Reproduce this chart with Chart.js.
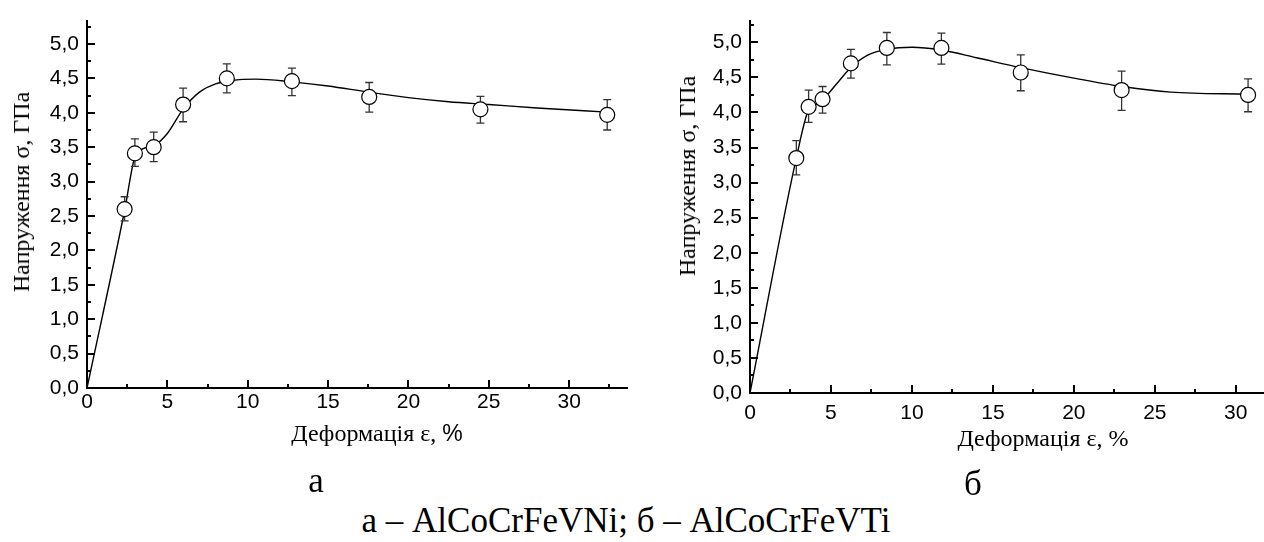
<!DOCTYPE html>
<html lang="uk">
<head>
    <meta charset="UTF-8">
    <title>Напруження – деформація</title>
    <script src="https://cdn.jsdelivr.net/npm/chart.js@4.4.1/dist/chart.umd.min.js"></script>
    <style>
        body { margin: 0; background: #fff; width: 1264px; height: 542px; overflow: hidden; position: relative; }
        canvas { position: absolute; top: 0; }
        #cA { left: 0; }
        #cB { left: 640px; }
        .txt { position: absolute; font-family: "Liberation Serif", "Times New Roman", serif; color: #000; white-space: nowrap; line-height: 1; }
        .ytitle { font-size: 24px; transform: translate(-50%, -50%) rotate(-90deg); }
        .xtitle { font-size: 24px; transform: translate(-50%, -50%); }
        .cap { font-size: 35px; transform: translate(-50%, -50%); }
    </style>
</head>
<body>
    <canvas id="cA" width="640" height="450"></canvas>
    <!-- a bit wider than the window: the axis of б runs right up to the edge -->
    <canvas id="cB" width="632" height="450"></canvas>

    <div class="txt ytitle" style="left:21px; top:192px;">Напруження σ, ГПа</div>
    <div class="txt xtitle" style="left:377px; top:433px;">Деформація ε, <span style="font-family:'Liberation Sans',Arial,sans-serif;font-size:23px">%</span></div>
    <div class="txt ytitle" style="left:687px; top:176px;">Напруження σ, ГПа</div>
    <div class="txt xtitle" style="left:1043px; top:438px;">Деформація ε, %</div>
    <div class="txt cap" style="left:316px; top:480px;">а</div>
    <div class="txt cap" style="left:973px; top:483px;">б</div>
    <div class="txt cap" style="left:626px; top:520px;">а – AlCoCrFeVNi; б – AlCoCrFeVTi</div>

    <script>
        // tick labels
        const xTicks = [0, 5, 10, 15, 20, 25, 30]
        const yTicks = [0, 0.5, 1.0, 1.5, 2.0, 2.5, 3.0, 3.5, 4.0, 4.5, 5.0]

        // а – AlCoCrFeVNi: measured points
        const strainA = [2.34, 2.98, 4.15, 5.98, 8.70, 12.75, 17.56, 24.48, 32.37]
        const stressA = [2.60, 3.41, 3.50, 4.12, 4.50, 4.46, 4.23, 4.05, 3.97]
        const errUpA  = [2.78, 3.62, 3.72, 4.36, 4.71, 4.65, 4.44, 4.24, 4.19]
        const errLoA  = [2.43, 3.22, 3.29, 3.87, 4.29, 4.25, 4.01, 3.85, 3.75]
        // а: fitted curve
        const curveXA = [0, 2.34, 2.98, 3.5, 4.15, 5.0, 6.0, 7.0, 8.0, 9.0, 10.5, 12.75, 15, 17.5, 20, 22.5, 25, 28, 32.37]
        const curveYA = [0, 2.58, 3.36, 3.48, 3.52, 3.70, 4.06, 4.30, 4.42, 4.47, 4.49, 4.45, 4.39, 4.30, 4.22, 4.16, 4.12, 4.07, 4.01]

        // б – AlCoCrFeVTi: measured points
        const strainB = [2.86, 3.62, 4.48, 6.23, 8.45, 11.82, 16.72, 22.95, 30.76]
        const stressB = [3.35, 4.08, 4.19, 4.70, 4.92, 4.92, 4.57, 4.32, 4.25]
        const errUpB  = [3.60, 4.32, 4.37, 4.90, 5.14, 5.13, 4.82, 4.59, 4.48]
        const errLoB  = [3.11, 3.86, 3.99, 4.49, 4.68, 4.69, 4.31, 4.03, 4.01]
        // б: fitted curve
        const curveXB = [0, 2.86, 3.62, 4.1, 4.48, 5.5, 6.23, 7.3, 8.45, 10, 11.82, 14, 16.72, 20, 23, 26, 30.76]
        const curveYB = [0, 3.35, 4.04, 4.12, 4.18, 4.45, 4.64, 4.82, 4.90, 4.93, 4.89, 4.78, 4.64, 4.49, 4.37, 4.29, 4.26]

        const fmt = v => v.toFixed(1).replace('.', ',')
        const fmtX = v => String(v)

        // inward ticks (major + minor halfway)
        const inTicks = {
            id: 'inTicks',
            afterDraw: (chart) => {
                const ctx = chart.ctx
                const a = chart.chartArea
                const xs = chart.scales.x
                const ys = chart.scales.y
                ctx.save()
                ctx.strokeStyle = '#000'
                ctx.lineWidth = 2
                ctx.beginPath()
                const xAll = []
                xTicks.forEach(v => { xAll.push([v, 8]); xAll.push([v + 2.5, 4]) })
                xAll.forEach(([v, len]) => {
                    if (v > xs.max) return
                    const px = Math.round(xs.getPixelForValue(v))
                    ctx.moveTo(px, a.bottom)
                    ctx.lineTo(px, a.bottom - len)
                })
                const yAll = []
                yTicks.forEach(v => { yAll.push([v, 8]); yAll.push([v + 0.25, 4]) })
                yAll.forEach(([v, len]) => {
                    if (v > ys.max) return
                    const py = Math.round(ys.getPixelForValue(v))
                    ctx.moveTo(a.left, py)
                    ctx.lineTo(a.left + len, py)
                })
                ctx.stroke()
                ctx.restore()
            }
        }

        // error bars, drawn just before the circles
        const errBars = {
            id: 'errBars',
            beforeDatasetDraw: (chart, args, opts) => {
                if (args.index !== 1) return
                const ctx = chart.ctx
                const xs = chart.scales.x
                const ys = chart.scales.y
                ctx.save()
                ctx.strokeStyle = '#333'
                ctx.lineWidth = 1.3
                ctx.beginPath()
                opts.x.forEach((x, i) => {
                    const px = xs.getPixelForValue(x)
                    const top = ys.getPixelForValue(opts.hi[i])
                    const bot = ys.getPixelForValue(opts.lo[i])
                    ctx.moveTo(px, top); ctx.lineTo(px, bot)
                    ctx.moveTo(px - 4, top); ctx.lineTo(px + 4, top)
                    ctx.moveTo(px - 4, bot); ctx.lineTo(px + 4, bot)
                })
                ctx.stroke()
                ctx.restore()
            }
        }

        const makeChart = (el, cfg) => {
            const curve = cfg.cx.map((x, i) => ({ x: x, y: cfg.cy[i] }))
            const pts = cfg.px.map((x, i) => ({ x: x, y: cfg.py[i] }))
            return new Chart(el.getContext('2d'), {
                type: 'scatter',
                data: {
                    datasets: [
                        {
                            type: 'line',
                            data: curve,
                            borderColor: '#000',
                            borderWidth: 1.4,
                            pointRadius: 0,
                            cubicInterpolationMode: 'monotone',
                            fill: false,
                            order: 2
                        },
                        {
                            data: pts,
                            showLine: false,
                            pointStyle: 'circle',
                            pointRadius: 7.5,
                            pointBorderWidth: 1.2,
                            pointBackgroundColor: '#fff',
                            pointBorderColor: '#000',
                            order: 1
                        }
                    ]
                },
                options: {
                    responsive: false,
                    animation: false,
                    events: [],
                    layout: { padding: cfg.pad },
                    plugins: {
                        legend: { display: false },
                        tooltip: { enabled: false },
                        errBars: { x: cfg.px, hi: cfg.hi, lo: cfg.lo }
                    },
                    scales: {
                        x: {
                            type: 'linear',
                            min: 0,
                            max: cfg.xmax,
                            grid: { display: false, drawTicks: false },
                            border: { display: true, color: '#000', width: 2 },
                            ticks: {
                                color: '#000',
                                font: { family: 'Liberation Sans', size: 21 },
                                padding: cfg.xpad,
                                callback: fmtX
                            },
                            afterBuildTicks: s => { s.ticks = xTicks.map(v => ({ value: v })) },
                            afterFit: s => { s.height = cfg.xh }
                        },
                        y: {
                            type: 'linear',
                            min: 0,
                            max: cfg.ymax,
                            grid: { display: false, drawTicks: false },
                            border: { display: true, color: '#000', width: 2 },
                            ticks: {
                                color: '#000',
                                font: { family: 'Liberation Sans', size: 21 },
                                padding: 8,
                                callback: fmt
                            },
                            afterBuildTicks: s => { s.ticks = yTicks.map(v => ({ value: v })) },
                            afterFit: s => { s.width = cfg.yw }
                        }
                    }
                },
                plugins: [inTicks, errBars]
            })
        }

        makeChart(document.getElementById('cA'), {
            px: strainA, py: stressA, hi: errUpA, lo: errLoA,
            cx: curveXA, cy: curveYA,
            xmax: 33.6, ymax: 5.34,
            pad: { top: 15, right: 13, left: 0, bottom: 0 },
            yw: 87, xh: 62, xpad: 2
        })

        makeChart(document.getElementById('cB'), {
            px: strainB, py: stressB, hi: errUpB, lo: errLoB,
            cx: curveXB, cy: curveYB,
            xmax: 31.7, ymax: 5.31,
            pad: { top: 15, right: 0, left: 0, bottom: 0 },
            yw: 110, xh: 57, xpad: 8
        })
    </script>
</body>
</html>
